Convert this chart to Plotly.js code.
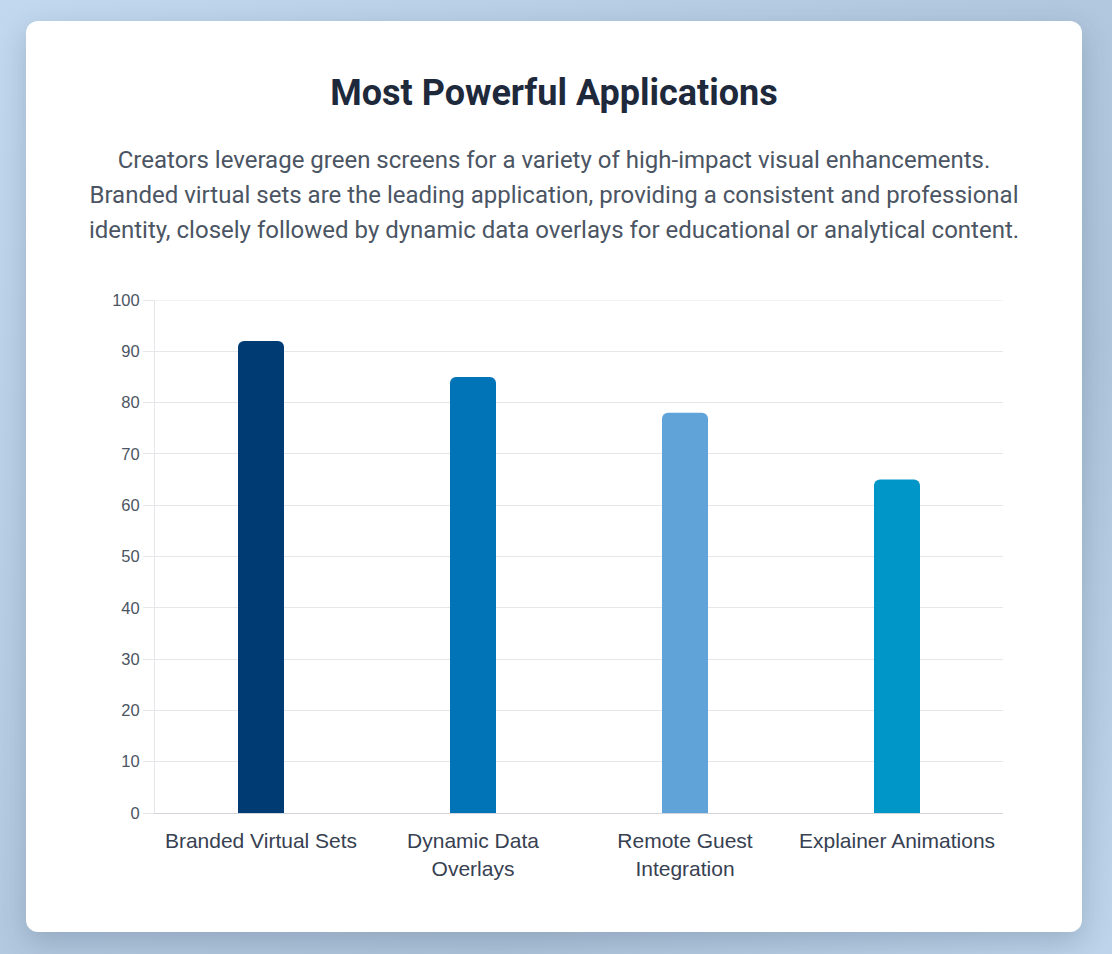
<!DOCTYPE html>
<html>
<head>
<meta charset="utf-8">
<script src="https://cdn.plot.ly/plotly-3.0.1.min.js"></script>
<style>
  html, body { margin: 0; padding: 0; }
  body {
    width: 1112px; height: 954px; overflow: hidden; position: relative;
    background: linear-gradient(135deg, #c2d8ee 0%, #b3c9df 45%, #aec4da 70%, #bdd4ea 100%);
  }
  .card {
    position: absolute; left: 26px; top: 21px; width: 1056px; height: 911px;
    background: #ffffff; border-radius: 12px;
    box-shadow: 0 10px 28px rgba(40, 60, 90, 0.22);
  }
  h1 {
    position: absolute; left: 0; right: 0; top: 50px; margin: 0;
    text-align: center; font-family: Roboto, "Noto Sans", sans-serif;
    font-weight: 700; font-size: 36px; line-height: 44px; color: #1e293b;
  }
  p.sub {
    position: absolute; left: 0; right: 0; top: 122px; margin: 0;
    text-align: center; font-family: Roboto, "Noto Sans", sans-serif;
    font-size: 24px; line-height: 35px; color: #4b5563;
    white-space: nowrap;
  }
  #chart { position: absolute; left: 40px; top: 259px; width: 976px; height: 630px; }
</style>
</head>
<body>
<div class="card">
  <h1>Most Powerful Applications</h1>
  <p class="sub">Creators leverage green screens for a variety of high-impact visual enhancements.<br>Branded virtual sets are the leading application, providing a consistent and professional<br>identity, closely followed by dynamic data overlays for educational or analytical content.</p>
  <div id="chart"></div>
</div>
<script>
const categories = ["Branded Virtual Sets", "Dynamic Data<br>Overlays", "Remote Guest<br>Integration", "Explainer Animations"];
const values = [92, 85, 78, 65];
const barColors = ["#003B73", "#0074B7", "#60A3D9", "#0096C7"];
const yTickVals = [0, 10, 20, 30, 40, 50, 60, 70, 80, 90, 100];

const trace = {
  type: "bar",
  x: categories,
  y: values,
  marker: { color: barColors, cornerradius: 6 },
  hoverinfo: "x+y"
};

const layout = {
  width: 976, height: 630,
  margin: { l: 89, r: 39, t: 20, b: 97 },
  paper_bgcolor: "rgba(0,0,0,0)",
  plot_bgcolor: "#ffffff",
  bargap: 0.783,
  showlegend: false,
  xaxis: {
    type: "category",
    showline: true, linecolor: "#d1d5db", linewidth: 1,
    showgrid: false, ticks: "outside", ticklen: 9, tickcolor: "rgba(0,0,0,0)",
    tickfont: { family: "Liberation Sans, Arial, sans-serif", size: 21, color: "#374151" },
    automargin: false
  },
  yaxis: {
    range: [0, 100], tickvals: yTickVals,
    showgrid: true, gridcolor: "#e5e7eb", gridwidth: 1,
    zeroline: false,
    showline: true, linecolor: "#e5e7eb", linewidth: 1,
    ticks: "outside", ticklen: 11, tickcolor: "#e5e7eb", tickwidth: 1,
    tickfont: { family: "Liberation Sans, Arial, sans-serif", size: 16.5, color: "#4b5563" },
    automargin: false
  },
  shapes: [{
    type: "line", xref: "paper", yref: "y", x0: 0, x1: 1,
    y0: yTickVals[yTickVals.length - 1], y1: yTickVals[yTickVals.length - 1],
    line: { color: "#e5e7eb", width: 1 }, layer: "below"
  }]
};

Plotly.newPlot("chart", [trace], layout, { displayModeBar: false, staticPlot: true });
</script>
</body>
</html>
